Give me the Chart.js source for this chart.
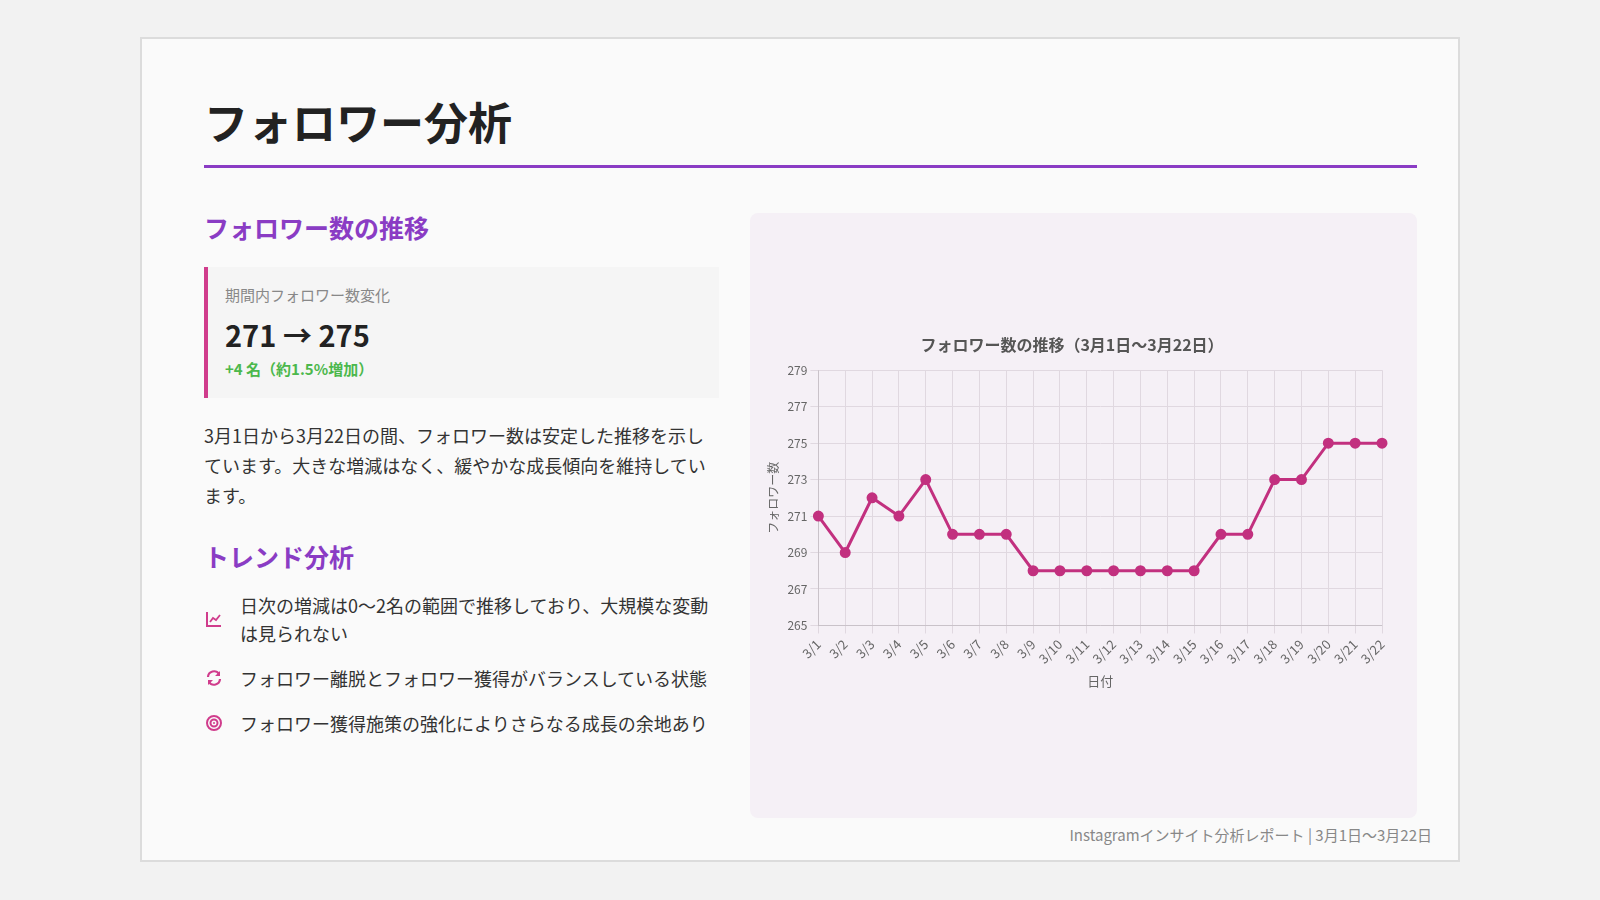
<!DOCTYPE html>
<html><head><meta charset="utf-8">
<script src="https://cdn.jsdelivr.net/npm/chart.js@4.4.0/dist/chart.umd.min.js"></script>
<style>
*{box-sizing:border-box;margin:0;padding:0}
body{width:1600px;height:900px;background:#f2f2f2;font-family:"Noto Sans CJK JP","Noto Sans",sans-serif;position:relative;overflow:hidden}
.card{position:absolute;left:140px;top:37px;width:1320px;height:825px;background:#fafafa;border:2px solid #dcdcdc}
h1{position:absolute;left:62px;top:50px;font-size:44px;font-weight:700;color:#222}
.rule{position:absolute;left:62px;top:126px;width:1213px;height:3px;background:#8a3cc4}
.left{position:absolute;left:62px;top:170px;width:515px}
h2{font-size:25px;color:#8a3cc4;font-weight:700}
.box{margin-top:22px;height:131px;border-left:4px solid #d03c8c;background:#f5f5f5;padding:17px 0 0 17px}
.box .lab{font-size:15px;color:#888}
.box .big{font-size:29px;font-weight:700;color:#222;margin-top:8px}
.box .grn{font-size:15px;font-weight:700;color:#4cb84c;margin-top:3px}
p.desc{margin-top:22px;font-size:18px;line-height:30px;color:#333}
h2.t2{margin-top:28px}
.item{display:flex;align-items:center;margin-top:17px;font-size:18px;line-height:28px;color:#333}
.item svg{flex:0 0 20px;margin-right:16px}
.panel{position:absolute;left:608px;top:174px;width:667px;height:605px;background:#f5f0f6;border-radius:8px}
.chartwrap{position:absolute;left:12px;top:122px;width:640px;height:358px}
.foot{position:absolute;right:26px;top:785px;font-size:15px;color:#888}
</style></head><body>
<div class="card">
<h1>フォロワー分析</h1>
<div class="rule"></div>
<div class="left">
<h2>フォロワー数の推移</h2>
<div class="box"><div class="lab">期間内フォロワー数変化</div><div class="big">271 → 275</div><div class="grn">+4 名（約1.5%増加）</div></div>
<p class="desc">3月1日から3月22日の間、フォロワー数は安定した推移を示しています。大きな増減はなく、緩やかな成長傾向を維持しています。</p>
<h2 class="t2">トレンド分析</h2>
<div class="item"><svg width="18" height="18" viewBox="0 0 18 18"><path d="M2 2V16H16" stroke="#d03c8c" stroke-width="2" fill="none"/><path d="M5 12L8 8L11 10L15 5" stroke="#d03c8c" stroke-width="1.8" fill="none"/></svg><span>日次の増減は0〜2名の範囲で推移しており、大規模な変動は見られない</span></div>
<div class="item"><svg width="18" height="18" viewBox="0 0 18 18"><path d="M3 8A6 6 0 0 1 14 5M15 10A6 6 0 0 1 4 13" stroke="#d03c8c" stroke-width="2.2" fill="none"/><path d="M15 2V7H10Z M3 16V11H8Z" fill="#d03c8c"/></svg><span>フォロワー離脱とフォロワー獲得がバランスしている状態</span></div>
<div class="item"><svg width="18" height="18" viewBox="0 0 18 18"><circle cx="9" cy="9" r="7" stroke="#d03c8c" stroke-width="2" fill="none"/><circle cx="9" cy="9" r="3.5" stroke="#d03c8c" stroke-width="2" fill="none"/><circle cx="9" cy="9" r="1" fill="#d03c8c"/></svg><span>フォロワー獲得施策の強化によりさらなる成長の余地あり</span></div>
</div>
<div class="panel"><div class="chartwrap"><canvas id="c"></canvas></div></div>
<div class="foot">Instagramインサイト分析レポート | 3月1日〜3月22日</div>
</div>
<script>
const dates=["3/1","3/2","3/3","3/4","3/5","3/6","3/7","3/8","3/9","3/10","3/11","3/12","3/13","3/14","3/15","3/16","3/17","3/18","3/19","3/20","3/21","3/22"];
const followers=[271,269,272,271,273,270,270,270,268,268,268,268,268,268,268,270,270,273,273,275,275,275];
const F="'Noto Sans CJK JP', sans-serif";
new Chart(document.getElementById('c'),{type:'line',
data:{labels:dates,datasets:[{data:followers,borderColor:'#c2307f',backgroundColor:'#c2307f',borderWidth:3,pointRadius:4,pointHoverRadius:5,tension:0}]},
options:{responsive:true,maintainAspectRatio:false,animation:false,layout:{padding:{right:20}},
plugins:{legend:{display:false},title:{display:true,text:'フォロワー数の推移（3月1日〜3月22日）',font:{size:16,weight:'bold',family:F},color:'#555',padding:{bottom:16}}},
scales:{y:{min:265,max:279,ticks:{stepSize:2,font:{size:12,family:F},color:'#666'},title:{display:true,text:'フォロワー数',font:{size:12,family:F},color:'#666'},grid:{color:'#e0d8e0'}},
x:{ticks:{maxRotation:45,minRotation:45,font:{size:13,family:F},color:'#666'},title:{display:true,text:'日付',font:{size:13,family:F},color:'#666'},grid:{color:'#e0d8e0'}}}}});
</script>
</body></html>
